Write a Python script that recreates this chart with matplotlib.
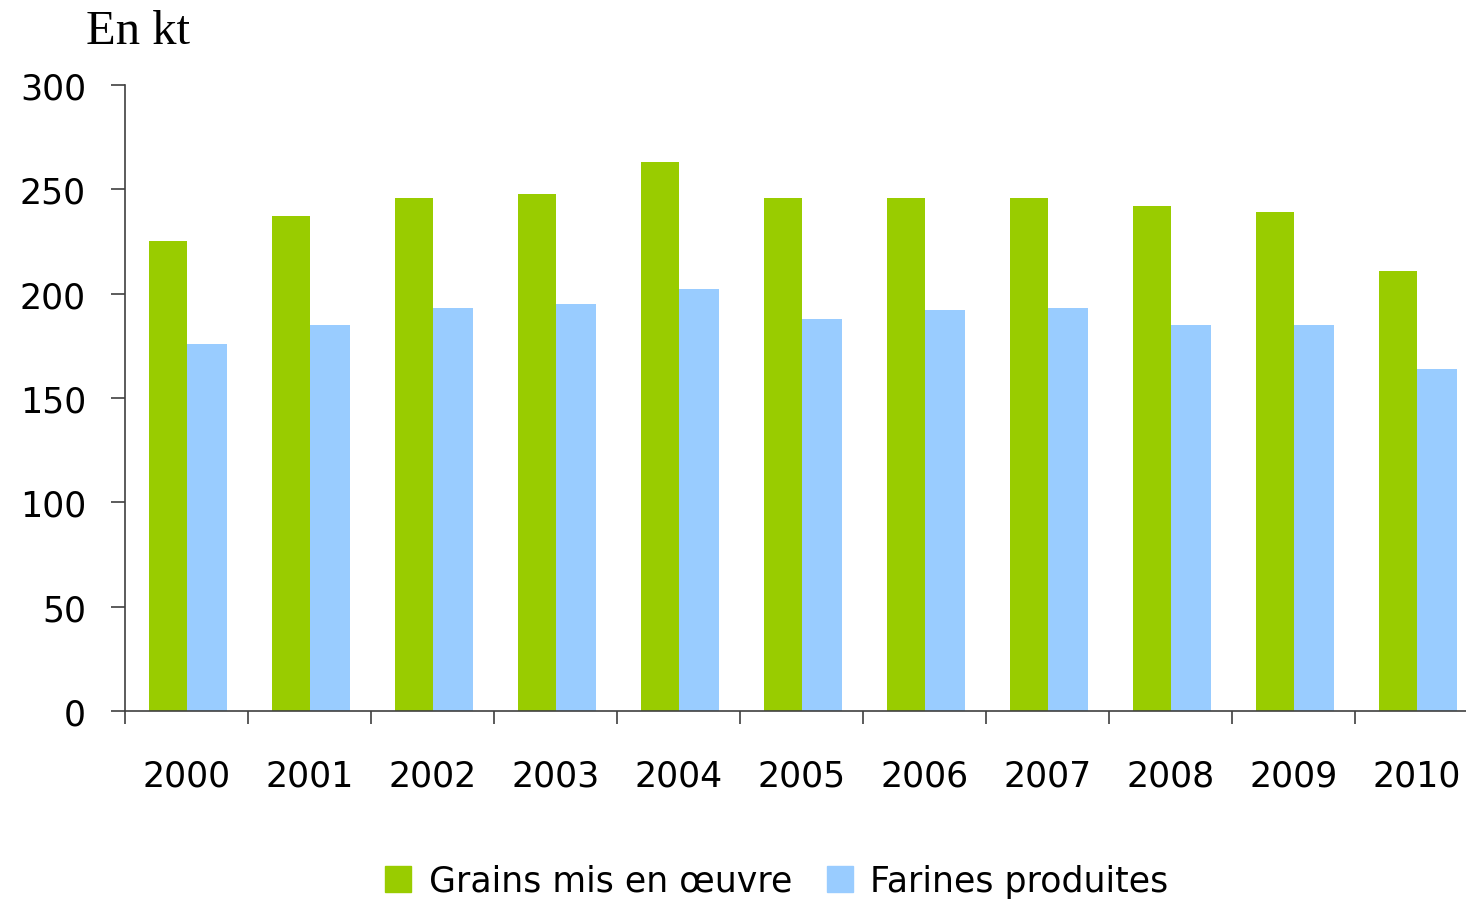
import numpy as np
import matplotlib.pyplot as plt
from matplotlib.patches import Patch

years = ['2000', '2001', '2002', '2003', '2004', '2005',
         '2006', '2007', '2008', '2009', '2010']
grains = [225, 237, 246, 248, 263, 246, 246, 246, 242, 239, 211]
farines = [176, 185, 193, 195, 202, 188, 192, 193, 185, 185, 164]

green = '#99CC00'
blue = '#99CCFF'
font = 'DejaVu Sans'

fig = plt.figure(figsize=(14.66, 9.03), dpi=100)
ax = fig.add_axes([125 / 1466, 1 - 712 / 903, 1 - 125 / 1466, (712 - 86) / 903])

x = np.arange(len(years))
# green slightly under the blue bar so no white seam shows
ax.bar(x - 0.15, grains, width=0.31, color=green, linewidth=0, zorder=2)
ax.bar(x + 0.165, farines, width=0.33, color=blue, linewidth=0, zorder=3)

ax.set_xlim(-0.5, 10.4)
ax.set_ylim(0, 300)

for s in ['top', 'right']:
    ax.spines[s].set_visible(False)
for s in ['left', 'bottom']:
    ax.spines[s].set_color('#404040')
    ax.spines[s].set_linewidth(1.2)
    ax.spines[s].set_zorder(4)

ax.set_yticks(range(0, 301, 50))
ax.set_yticklabels([str(v) for v in range(0, 301, 50)], fontsize=25, family=font)
ax.tick_params(axis='y', length=10, width=1.2, color='#404040', pad=18)

# ticks between categories, labels at category centres
ax.set_xticks(np.arange(-0.5, 10.5, 1.0))
ax.set_xticklabels([])
ax.tick_params(axis='x', length=9, width=1.2, color='#404040')
for i, y in enumerate(years):
    ax.text(i, -31, y, ha='center', va='center', fontsize=25, family=font,
            transform=ax.transData, clip_on=False)

fig.text(86 / 1466, 1 - 32 / 903, 'En kt', fontsize=35, family='Liberation Serif',
         ha='left', va='center')

handles = [Patch(color=green, label='Grains mis en œuvre'),
           Patch(color=blue, label='Farines produites')]
fig.legend(handles=handles, loc='center', bbox_to_anchor=(777 / 1466, 1 - 882 / 903),
           ncol=2, frameon=False, prop={'family': font, 'size': 25},
           handlelength=0.75, handleheight=0.75, handletextpad=0.5, columnspacing=1.0)

fig.savefig('out.png', dpi=100)
